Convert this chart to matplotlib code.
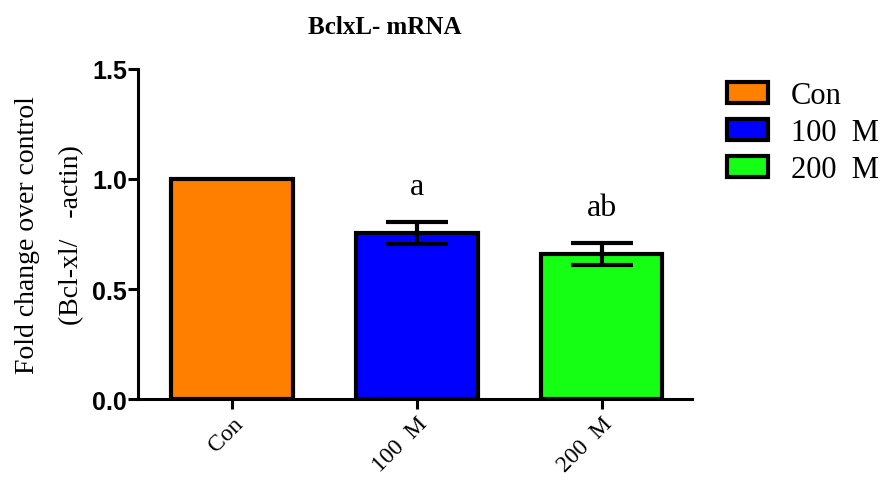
import matplotlib.pyplot as plt
from matplotlib.patches import Patch

groups = ['Con', '100  M', '200  M']
values = [1.0, 0.755, 0.66]
errors = [0.0, 0.05, 0.05]
sig = ['', 'a', 'ab']
colors = ['#ff8000', '#0000ff', '#14ff14']

serif = 'Liberation Serif'
sans = 'Liberation Sans'

fig = plt.figure(figsize=(8.87, 4.81), dpi=100)
ax = fig.add_axes([138 / 887, 1 - 400 / 481, (692 - 138) / 887, 330 / 481])

x = list(range(len(groups)))
ax.bar(x, values, width=0.66, color=colors, edgecolor='black', linewidth=3, zorder=2)
for xi, v, e in zip(x, values, errors):
    if e > 0:
        ax.errorbar(xi, v, yerr=e, fmt='none', ecolor='black', elinewidth=3,
                    capsize=22, capthick=3, zorder=3)
for xi, v, e, s in zip(x, values, errors, sig):
    if s:
        ax.text(xi, v + e + 0.125, s, ha='center', va='baseline',
                fontsize=23, family=serif)

ax.set_xlim(-0.51, 2.49)
ax.set_ylim(0, 1.5)
ax.set_yticks([0.0, 0.5, 1.0, 1.5])
ax.set_yticklabels(['0.0', '0.5', '1.0', '1.5'], fontsize=18,
                   fontweight='bold', family=sans)
ax.set_xticks(x)
ax.set_xticklabels(groups, rotation=45, ha='right', rotation_mode='anchor',
                   fontsize=17, family=serif)
ax.tick_params(axis='both', width=2.2, length=7, direction='out')
ax.tick_params(axis='x', pad=3)
ax.tick_params(axis='y', pad=1)
for sp in ['top', 'right']:
    ax.spines[sp].set_visible(False)
for sp in ['left', 'bottom']:
    ax.spines[sp].set_linewidth(2.2)

ax.set_ylabel('Fold change over control\n(Bcl-xl/   -actin)', fontsize=20,
              family=serif, labelpad=6, linespacing=2.0)

fig.text(385 / 887, 1 - 27 / 481, 'BclxL- mRNA', ha='center', va='center',
         fontsize=18, fontweight='bold', family=serif)

handles = [Patch(facecolor=c, edgecolor='black', linewidth=3) for c in colors]
fig.legend(handles, groups, loc='upper left', bbox_to_anchor=(727 / 887, 1 - 82 / 481),
           frameon=False, prop={'family': serif, 'size': 22}, borderpad=0,
           borderaxespad=0, handlelength=1.34, handleheight=0.69,
           handletextpad=0.75, labelspacing=0.27)

fig.savefig('out.png', dpi=100)
